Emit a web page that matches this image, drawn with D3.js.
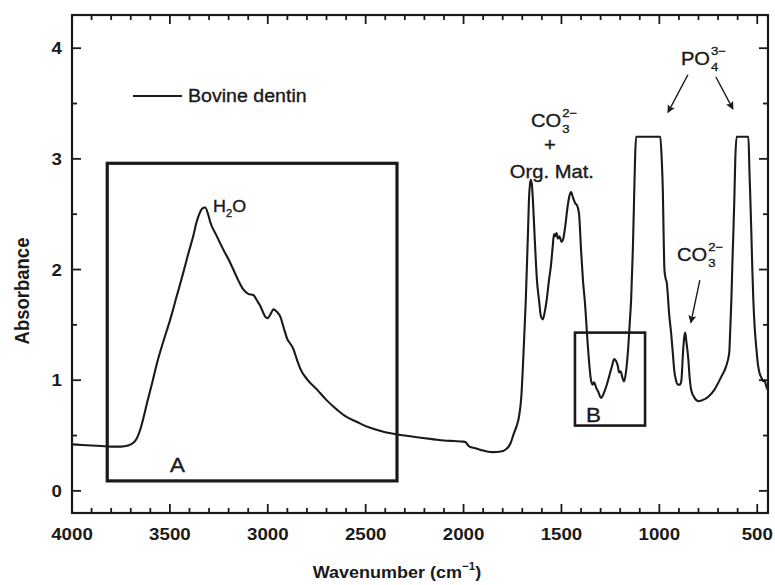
<!DOCTYPE html>
<html><head><meta charset="utf-8">
<script src="https://cdn.jsdelivr.net/npm/d3@7/dist/d3.min.js"></script>
<style>
body{margin:0;background:#fff}
text{font-family:"Liberation Sans",Arial,Helvetica,sans-serif;fill:#1a1a1a;stroke:#1a1a1a;stroke-width:0.35px}
text.bold{font-weight:bold;stroke-width:0}
</style>
</head><body>
<svg id="chart" width="775" height="585"></svg>
<script>
// ---- data ----
const wavenumbers = [4000,3950,3900,3850,3800,3750,3713,3690,3670,3652,3635,3616,3590,3565,3530,3498,3465,3432,3405,3381,3365,3350,3335,3320,3305,3294,3260,3227,3200,3176,3150,3125,3100,3074,3055,3038,3015,3002,2985,2971,2955,2935,2918,2900,2885,2869,2850,2833,2800,2746,2700,2644,2600,2541,2500,2439,2400,2337,2300,2219,2150,2100,2050,2000,1990,1985,1970,1940,1912,1880,1850,1810,1780,1760,1743,1730,1717,1705,1697,1690,1682,1671,1666,1660,1656,1650,1645,1637,1625,1615,1605,1595,1585,1575,1564,1554,1545,1538,1532,1525,1518,1510,1500,1492,1480,1470,1460,1451,1441,1430,1420,1410,1400,1390,1380,1364,1349,1340,1334,1320,1313,1298,1282,1270,1257,1240,1231,1220,1211,1206,1200,1195,1188,1180,1170,1160,1150,1144,1135,1129,1124,1119,1000,995,988,982,978,974,968,962,958,950,940,930,924,915,904,895,888,878,872,868,862,852,845,837,820,801,780,750,720,684,660,643,638,632,627,622,617,612,605,545,540,535,530,525,520,512,504,497,489,478,468,463,455,445];
const absorbance = [0.42,0.415,0.41,0.405,0.40,0.40,0.41,0.43,0.47,0.55,0.66,0.80,0.98,1.16,1.37,1.55,1.76,1.97,2.15,2.30,2.42,2.50,2.55,2.56,2.50,2.43,2.30,2.18,2.09,2.00,1.90,1.82,1.78,1.77,1.72,1.67,1.58,1.56,1.60,1.64,1.62,1.57,1.47,1.37,1.33,1.28,1.18,1.10,1.01,0.91,0.82,0.73,0.67,0.62,0.585,0.55,0.53,0.51,0.50,0.48,0.465,0.455,0.45,0.445,0.44,0.43,0.40,0.385,0.37,0.355,0.35,0.355,0.38,0.43,0.52,0.58,0.67,0.85,1.12,1.40,1.73,2.33,2.63,2.78,2.81,2.75,2.60,2.30,1.90,1.73,1.58,1.55,1.62,1.73,1.90,2.03,2.20,2.32,2.30,2.33,2.28,2.30,2.25,2.27,2.40,2.55,2.66,2.70,2.65,2.60,2.58,2.50,2.18,1.90,1.70,1.28,1.00,0.96,0.98,0.92,0.90,0.84,0.89,0.95,1.03,1.14,1.19,1.17,1.12,1.07,1.08,1.07,1.02,0.99,1.08,1.27,1.55,1.73,2.20,2.64,3.00,3.20,3.20,3.20,3.00,2.70,2.30,2.00,1.92,1.88,1.80,1.60,1.43,1.22,1.09,1.00,0.96,0.96,0.99,1.28,1.40,1.43,1.35,1.19,1.02,0.91,0.84,0.81,0.82,0.85,0.91,1.03,1.12,1.25,1.45,1.73,2.05,2.33,2.63,3.00,3.20,3.20,2.90,2.63,2.33,2.00,1.73,1.45,1.28,1.15,1.07,1.02,0.99,1.00,0.95,0.91];
const xTickValues = [4000,3500,3000,2500,2000,1500,1000,500];
const yTickValues = [0,1,2,3,4];
const xDomain = [4000,445];
const yDomain = [-0.2,4.3];
const seriesName = "Bovine dentin";
const xTitle = "Wavenumber (cm";
const yTitle = "Absorbance";
// annotation boxes / labels / arrows in data units
const boxes = [
  {label:"A", wn:[3820,2340], abs:[0.09,2.96], lw:3.2, lx:3500, ly:0.17},
  {label:"B", wn:[1431,1073], abs:[0.59,1.43], lw:2.6, lx:1375, ly:0.62}
];
const arrows = [
  {from:[854,3.76], to:[956,3.42]},
  {from:[711,3.74], to:[624,3.45]},
  {from:[793,1.905], to:[839,1.52]}
];

// ---- layout ----
const W = 775, H = 585;
const M = {left:72, right:7, top:15, bottom:72};
const SX = 1.12;   // horizontal stretch of the reference's lettering
const ink = "#1a1a1a";
const svg = d3.select("#chart");
const x = d3.scaleLinear().domain(xDomain).range([M.left, W - M.right]);
const y = d3.scaleLinear().domain(yDomain).range([H - M.bottom, M.top]);

function stext(g, px, py, str, size, anchor, cls, sx) {
  return g.append("text")
    .attr("class", cls || null)
    .attr("transform", `translate(${px},${py}) scale(${sx || SX},1)`)
    .attr("text-anchor", anchor || "start")
    .style("font-size", size + "px")
    .text(str);
}

// ticks
const xMinor = d3.range(4000, 499, -100);
const yMinor = d3.range(0, 4.01, 0.5);
const isMajX = v => v % 500 === 0;
const isMajY = v => Math.abs(v - Math.round(v)) < 1e-6;
const tickG = svg.append("g").attr("stroke", ink).attr("stroke-width", 1.8);
xMinor.forEach(v => {
  const L = isMajX(v) ? 9 : 5;
  tickG.append("line").attr("x1", x(v)).attr("x2", x(v)).attr("y1", y.range()[0]).attr("y2", y.range()[0] - L);
  tickG.append("line").attr("x1", x(v)).attr("x2", x(v)).attr("y1", y.range()[1]).attr("y2", y.range()[1] + L);
});
yMinor.forEach(v => {
  const L = isMajY(v) ? 9 : 5;
  tickG.append("line").attr("y1", y(v)).attr("y2", y(v)).attr("x1", x.range()[0]).attr("x2", x.range()[0] + L);
  tickG.append("line").attr("y1", y(v)).attr("y2", y(v)).attr("x1", x.range()[1]).attr("x2", x.range()[1] - L);
});

// frame
svg.append("rect")
  .attr("x", x.range()[0]).attr("y", y.range()[1])
  .attr("width", x.range()[1] - x.range()[0]).attr("height", y.range()[0] - y.range()[1])
  .attr("fill", "none").attr("stroke", ink).attr("stroke-width", 2.2);

// tick labels
const lab = svg.append("g");
xTickValues.forEach(v => stext(lab, x(v), y.range()[0] + 27, String(v), 17, "middle", "bold", 1.1));
yTickValues.forEach(v => stext(lab, x.range()[0] - 10, y(v) + 6, String(v), 17, "end", "bold", 1.1));

// axis titles
const xt = svg.append("text").attr("class", "bold")
  .attr("transform", `translate(${397},${578}) scale(1.06,1)`)
  .attr("text-anchor", "middle").style("font-size", "17px");
xt.append("tspan").text(xTitle);
xt.append("tspan").attr("dy", -8).style("font-size", "11px").text("\u22121");
xt.append("tspan").attr("dy", 8).text(")");

svg.append("text").attr("class", "bold")
  .attr("transform", `translate(29,${291}) rotate(-90) scale(1,1.08)`)
  .attr("text-anchor", "middle").style("font-size", "18.5px").text(yTitle);

// spectrum
const pts = wavenumbers.map((w, i) => [w, absorbance[i]]);
svg.append("path").datum(pts)
  .attr("fill", "none").attr("stroke", ink).attr("stroke-width", 2.1)
  .attr("stroke-linejoin", "round")
  .attr("d", d3.line().x(d => x(d[0])).y(d => y(d[1])).curve(d3.curveMonotoneX));

// boxes
boxes.forEach(b => {
  svg.append("rect")
    .attr("x", x(b.wn[0])).attr("y", y(b.abs[1]))
    .attr("width", x(b.wn[1]) - x(b.wn[0])).attr("height", y(b.abs[0]) - y(b.abs[1]))
    .attr("fill", "none").attr("stroke", ink).attr("stroke-width", b.lw);
  stext(svg, x(b.lx), y(b.ly), b.label, 20);
});

// legend
svg.append("line").attr("x1", 133).attr("x2", 182).attr("y1", 96).attr("y2", 96)
  .attr("stroke", ink).attr("stroke-width", 2.1);
stext(svg, 188, 102, seriesName, 17.5);

// chemical labels
function chem(px, py, main, sub, sup, size) {
  const t = stext(svg, px, py, main, size);
  const w = t.node().getComputedTextLength() * SX;
  if (sub) stext(svg, px + w + 1, py + 6, sub, size * 0.65);
  if (sup) stext(svg, px + w + 1, py - 10, sup, size * 0.65);
}
// H2O inline subscript
const h = svg.append("text")
  .attr("transform", `translate(${x(3280)},${y(2.52)}) scale(${SX},1)`)
  .style("font-size", "16px");
h.append("tspan").text("H");
h.append("tspan").attr("dy", 5).style("font-size", "10px").text("2");
h.append("tspan").attr("dy", -5).text("O");

chem(x(1656), y(3.29), "CO", "3", "2\u2212", 18);
stext(svg, x(1559), y(3.07), "+", 18, "middle");
stext(svg, x(1549), y(2.83), "Org. Mat.", 18, "middle");
chem(x(890), y(3.85), "PO", "4", "3\u2212", 18);
chem(x(910), y(2.08), "CO", "3", "2\u2212", 18);

// arrows
const defs = svg.append("defs");
defs.append("marker").attr("id", "ah").attr("viewBox", "0 0 10 10")
  .attr("refX", 9).attr("refY", 5).attr("markerWidth", 10).attr("markerHeight", 8)
  .attr("markerUnits", "userSpaceOnUse").attr("orient", "auto")
  .append("path").attr("d", "M0,0 L10,5 L0,10 L2,5 Z").attr("fill", ink);
arrows.forEach(a => {
  svg.append("line")
    .attr("x1", x(a.from[0])).attr("y1", y(a.from[1]))
    .attr("x2", x(a.to[0])).attr("y2", y(a.to[1]))
    .attr("stroke", ink).attr("stroke-width", 1.4).attr("marker-end", "url(#ah)");
});
</script>
</body></html>
